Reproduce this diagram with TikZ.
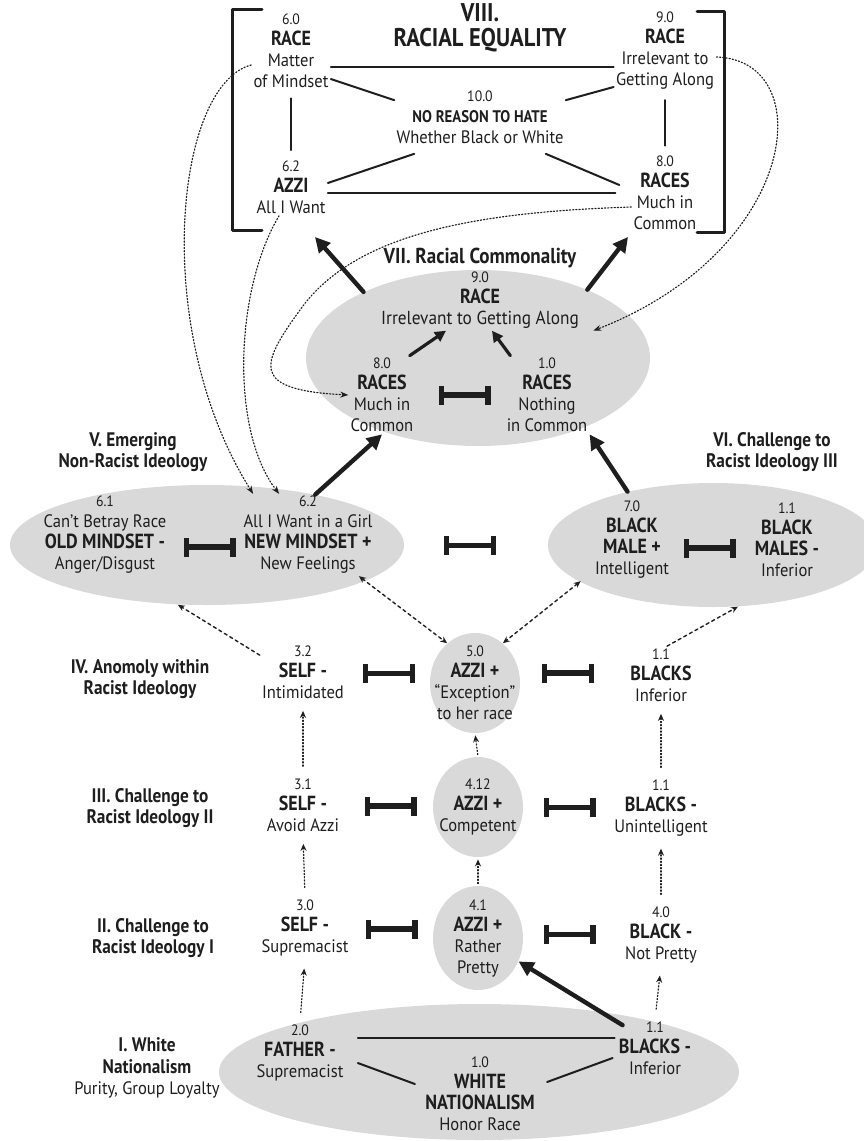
\documentclass[tikz,border=0pt]{standalone}
\usepackage{fontspec}
\setmainfont{PT Sans}[FakeStretch=0.92]
\newfontfamily\keyfont{PT Sans}[FakeStretch=0.88]
\usepackage{tikz}
\usetikzlibrary{arrows.meta,calc,shapes.geometric,positioning}
\definecolor{ink}{HTML}{1E1E1E}
\definecolor{oval}{HTML}{D9D9D9}
\newcommand\tnum{\fontsize{7.5}{10.5}\selectfont}
\newcommand\tkey{\keyfont\fontsize{10.2}{10.5}\selectfont\bfseries}
\newcommand\tsub{\fontsize{9}{10.5}\selectfont}
\tikzset{
  cpt/.style={align=center, inner sep=1pt, font=\tsub, text=ink},
  tag/.style={align=center, inner sep=1pt, font=\keyfont\fontsize{9.8}{10.8}\selectfont\bfseries, text=ink},
  blob/.style={ellipse, fill=oval, inner sep=0pt},
  tie/.style={draw=ink, line width=1pt},
  thk/.style={draw=ink, line width=2.2pt, -{Triangle[length=7.5pt,width=7.5pt]}},
  thn/.style={draw=ink, line width=1.6pt, -{Triangle[length=5.5pt,width=5.5pt]}},
  inhib/.style={draw=ink, line width=2.6pt, line cap=butt, {Bar[width=9.5pt]}-{Bar[width=9.5pt]}},
  hint/.style={draw=ink, line width=0.6pt, densely dotted, shorten <=5pt, shorten >=5pt, -{Stealth[length=3.5pt,width=3pt]}},
  hintd/.style={draw=ink, line width=0.7pt, dash pattern=on 1.6pt off 1.6pt, -{Stealth[length=3.5pt,width=3pt]}},
  curl/.style={draw=ink, line width=0.6pt, densely dotted, -{Stealth[length=4pt,width=3pt]}},
}

\begin{document}
\begin{tikzpicture}[x=0.5pt, y=-0.5pt, line cap=round, line join=round]
  \useasboundingbox (0,0) rectangle (863,1141);

  % Grey fields
  \node[blob, minimum width=172pt, minimum height=88pt] (e7) at (478,358) {};
  \node[blob, minimum width=197pt, minimum height=60pt] (e5) at (207,545) {};
  \node[blob, minimum width=165pt, minimum height=62pt] (e6) at (713,545) {};
  \node[blob, minimum width=260pt, minimum height=68pt] (e1) at (479,1072) {};
  \node[blob, minimum width=45pt, minimum height=50pt] (d50) at (475,683) {};
  \node[blob, minimum width=45pt, minimum height=50pt] (d412) at (478,807) {};
  \node[blob, minimum width=45pt, minimum height=52pt] (d41) at (478,938) {};

  % VIII. Racial equality (bracketed)
  \draw[ink, line width=1.5pt] (262,9) -| (232,230) -- (262,230);
  \draw[ink, line width=1.5pt] (697,11) -| (724,232) -- (697,232);
  \node[tag, font=\keyfont\fontsize{12.8}{12.5}\selectfont\bfseries] (t8) at (480,28) {VIII.\\RACIAL EQUALITY};
  \node[cpt] (m60) at (291,51) {{\tnum 6.0}\\{\tkey RACE}\\Matter\\of Mindset};
  \node[cpt] (m90) at (665,51) {{\tnum 9.0}\\{\tkey RACE}\\Irrelevant to\\Getting Along};
  \node[cpt] (m100) at (480,117) {{\tnum 10.0}\\{\keyfont\fontsize{8.4}{10.5}\selectfont\bfseries NO REASON TO HATE}\\Whether Black or White};
  \node[cpt] (m62) at (291,187) {{\tnum 6.2}\\{\tkey AZZI}\\All I Want};
  \node[cpt] (m80) at (665,193) {{\tnum 8.0}\\{\tkey RACES}\\Much in\\Common};
  \draw[tie] ([yshift=-8pt]m60.east) -- ($(m60.east -| m90.west)+(0,-8pt)$);
  \draw[tie] ([yshift=-14pt]m60.east) -- ([yshift=-6pt]m100.north west);
  \draw[tie] ([yshift=-18pt]m90.west) -- ([yshift=-6pt]m100.north east);
  \draw[tie, shorten <=4pt, shorten >=4pt] (m60.south) -- (m62.north);
  \draw[tie, shorten <=4pt, shorten >=4pt] (m90.south) -- (m80.north);
  \draw[tie] ([yshift=2pt]m62.east) -- ([xshift=10pt,yshift=-4pt]m100.south west);
  \draw[tie] ([xshift=-10pt,yshift=-4pt]m100.south east) -- ([xshift=-6pt,yshift=4pt]m80.west);
  \draw[tie] ([yshift=-3pt]m62.east) -- ($(m62.east -| m80.west)+(-8pt,-3pt)$);

  % VII. Racial commonality
  \node[tag, font=\keyfont\fontsize{10.8}{11}\selectfont\bfseries] (t7) at (480,258) {VII. Racial Commonality};
  \node[cpt] (r90) at (480,300) {{\tnum 9.0}\\{\tkey RACE}\\{\fontsize{9.4}{10.5}\selectfont Irrelevant to Getting Along}};
  \node[cpt] (r80) at (382,395) {{\tnum 8.0}\\{\tkey RACES}\\Much in\\Common};
  \node[cpt] (r10) at (547,395) {{\tnum 1.0}\\{\tkey RACES}\\Nothing\\in Common};
  \draw[thn] ([xshift=-3pt]r80.north east) -- ([xshift=-17pt]r90.south);
  \draw[thn] ([xshift=3pt]r10.north west) -- ([xshift=6pt]r90.south);
  \draw[inhib] ($(r80)!0.5!(r10)$) ++(-13pt,0) -- ++(26pt,0);
  \coordinate (up7l) at (315,237);
  \coordinate (up7r) at (628,237);
  \draw[thk] (e7.150) -- (up7l);
  \draw[thk] (e7.32) -- (up7r);

  % V. and VI.
  \node[tag] (t5) at (133,452) {V. Emerging\\Non-Racist Ideology};
  \node[tag] (t6) at (772,452) {VI. Challenge to\\Racist Ideology III};
  \node[cpt] (old) at (105,535) {{\tnum 6.1}\\Can't Betray Race\\{\tkey OLD MINDSET -}\\Anger/Disgust};
  \node[cpt] (new) at (308,535) {{\tnum 6.2}\\All I Want in a Girl\\{\tkey NEW MINDSET +}\\New Feelings};
  \node[cpt] (bm70) at (632,540) {{\tnum 7.0}\\{\tkey BLACK}\\{\tkey MALE +}\\Intelligent};
  \node[cpt] (bm11) at (787,540) {{\tnum 1.1}\\{\tkey BLACK}\\{\tkey MALES -}\\Inferior};
  \draw[inhib] ($(old)!0.5!(new)+(1.5pt,-6pt)$) ++(-13pt,0) -- ++(26pt,0);
  \draw[inhib] ($(new)!0.5!(bm70)+(0,-4pt)$) ++(-13pt,0) -- ++(26pt,0);
  \draw[inhib] ($(bm70)!0.5!(bm11)+(0,-4pt)$) ++(-13pt,0) -- ++(26pt,0);
  \draw[thk] (e5.25) -- (r80.south);
  \draw[thk] (e6.148) -- (r10.south east);

  % IV. to II.
  \node[tag] (t4) at (140,679) {IV. Anomoly within\\Racist Ideology};
  \node[cpt] (s32) at (303,672) {{\tnum 3.2}\\{\tkey SELF -}\\Intimidated};
  \node[cpt] (a50) at (d50) {{\tnum 5.0}\\{\tkey AZZI +}\\``Exception''\\to her race};
  \node[cpt] (b11) at (661,675) {{\tnum 1.1}\\{\tkey BLACKS}\\Inferior};
  \node[tag] (t3) at (150,808) {III. Challenge to\\Racist Ideology II};
  \node[cpt] (s31) at (303,805) {{\tnum 3.1}\\{\tkey SELF -}\\Avoid Azzi};
  \node[cpt] (a412) at (d412) {{\tnum 4.12}\\{\tkey AZZI +}\\Competent};
  \node[cpt] (b11b) at (661,808) {{\tnum 1.1}\\{\tkey BLACKS -}\\Unintelligent};
  \node[tag] (t2) at (153,938) {II. Challenge to\\Racist Ideology I};
  \node[cpt] (s30) at (305,928) {{\tnum 3.0}\\{\tkey SELF -}\\Supremacist};
  \node[cpt] (a41) at (d41) {{\tnum 4.1}\\{\tkey AZZI +}\\Rather\\Pretty};
  \node[cpt] (b40) at (661,935) {{\tnum 4.0}\\{\tkey BLACK -}\\Not Pretty};
  \foreach \l/\r/\dy in {s32/d50/2, d50/b11/3, s31/d412/0, d412/b11b/0, s30/d41/2, d41/b40/1}
    \draw[inhib] ($(\l)!0.5!(\r)+(0,\dy pt)$) ++(-13pt,0) -- ++(26pt,0);

  % I. White nationalism
  \node[tag] (t1) at (147,1068) {I. White\\Nationalism\\{\mdseries\rmfamily\tsub Purity, Group Loyalty}};
  \node[cpt] (f20) at (300,1053) {{\tnum 2.0}\\{\tkey FATHER -}\\Supremacist};
  \node[cpt] (w10) at (480,1094) {{\tnum 1.0}\\{\tkey WHITE}\\{\tkey NATIONALISM}\\Honor Race};
  \node[cpt] (bl11) at (655,1048) {{\tnum 1.1}\\{\tkey BLACKS -}\\Inferior};
  \draw[tie] ([xshift=6pt,yshift=7.5pt]f20.east) -- ($(bl11.west)+(-1pt,5pt)$);
  \draw[tie] ([xshift=6pt,yshift=-5pt]f20.east) -- ([xshift=-4pt,yshift=5pt]w10.west);
  \draw[tie] ([xshift=-2pt,yshift=-5pt]bl11.west) -- ([xshift=5pt,yshift=6pt]w10.east);
  \draw[thk] ([xshift=3pt,yshift=-3pt]bl11.north west) -- (d41.-30);

  % Dotted steps upward
  \draw[hint] (f20.north) -- (s30.south);
  \draw[hint] (s30.north) -- (s31.south);
  \draw[hint] (s31.north) -- (s32.south);
  \draw[hint, shorten <=1pt, shorten >=1pt] (d41.north) -- (d412.south);
  \draw[hint, shorten <=1pt, shorten >=1pt] (d412.north) -- (d50.south);
  \draw[hint] (bl11.north) -- (b40.south);
  \draw[hint] (b40.north) -- (b11b.south);
  \draw[hint] (b11b.north) -- (b11.south);
  \draw[hintd] ([yshift=-6pt]s32.north west) -- (e5.-116);
  \draw[hintd] ([xshift=3pt]b11.north) -- (e6.-68);
  \draw[hintd, {Stealth[length=3.5pt,width=3pt]}-{Stealth[length=3.5pt,width=3pt]}] ([xshift=-8pt]new.south east) -- (d50.125);
  \draw[hintd, {Stealth[length=3.5pt,width=3pt]}-{Stealth[length=3.5pt,width=3pt]}] ([xshift=-6pt]bm70.south west) -- (d50.55);

  % Dotted links to the bracket
  \draw[curl] ([yshift=-7pt]m60.west) .. controls (175,85) and (150,330) .. ([xshift=6pt]new.north west);
  \draw[curl] ([xshift=-6pt]m62.south) .. controls (235,290) and (230,430) .. ([xshift=19pt]new.north west);
  \draw[curl] ([yshift=-7pt]m80.west) .. controls (480,212) and (355,232) .. (300,310) .. controls (260,365) and (250,390) .. (r80.west);
  \draw[curl] ([yshift=-3pt]m90.east) .. controls (820,60) and (800,250) .. ([xshift=6pt]r90.south east);
\end{tikzpicture}
\end{document}
